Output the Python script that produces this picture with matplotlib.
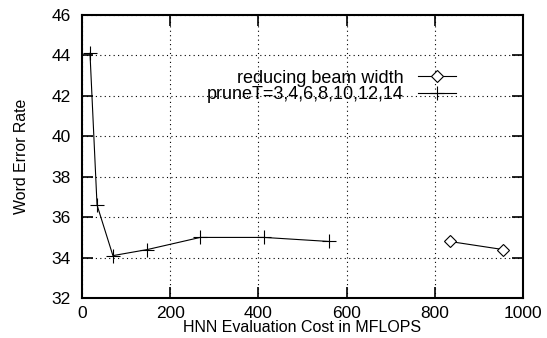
import matplotlib
matplotlib.use("Agg")
import matplotlib.pyplot as plt

# pruneT = 3,4,6,8,10,12,14
prune_cost = [18, 34, 70, 148, 268, 413, 560]
prune_wer = [44.1, 36.6, 34.1, 34.4, 35.0, 35.0, 34.8]

# reducing beam width
beam_cost = [834, 955]
beam_wer = [34.8, 34.4]

xticks = [0, 200, 400, 600, 800, 1000]
yticks = [32, 34, 36, 38, 40, 42, 44, 46]

plt.rcParams['font.family'] = ['Liberation Sans', 'DejaVu Sans']

fig = plt.figure(figsize=(5.47, 3.38), dpi=100)
ax = fig.add_axes([0.150, 0.118, 0.806, 0.838])

ax.plot(beam_cost, beam_wer, color='black', lw=0.8, marker='D', ms=6,
        mfc='white', mec='black', mew=0.8, label='reducing beam width')
ax.plot(prune_cost, prune_wer, color='black', lw=0.8, marker='+', ms=10,
        mew=0.8, label='pruneT=3,4,6,8,10,12,14')

ax.set_xlim(0, 1000)
ax.set_ylim(32, 46)
ax.set_xticks(xticks)
ax.set_yticks(yticks)
ax.tick_params(direction='in', length=8, width=1.2, top=True, right=True,
               labelsize=12.5)
ax.tick_params(axis='x', pad=6)
ax.tick_params(axis='y', pad=8)
ax.grid(True, color='black', linestyle=(0, (1, 3)), lw=0.8)
for s in ax.spines.values():
    s.set_linewidth(1.5)

ax.set_xlabel('HNN Evaluation Cost in MFLOPS', fontsize=11.5, labelpad=-1)
ax.set_ylabel('Word Error Rate', fontsize=11.4, labelpad=16)

ax.legend(loc='upper right', bbox_to_anchor=(0.868, 0.838), frameon=False,
          markerfirst=False, fontsize=13, handlelength=2.1, handletextpad=0.8,
          labelspacing=-0.05, borderpad=0)

fig.savefig('out.png', dpi=100)
